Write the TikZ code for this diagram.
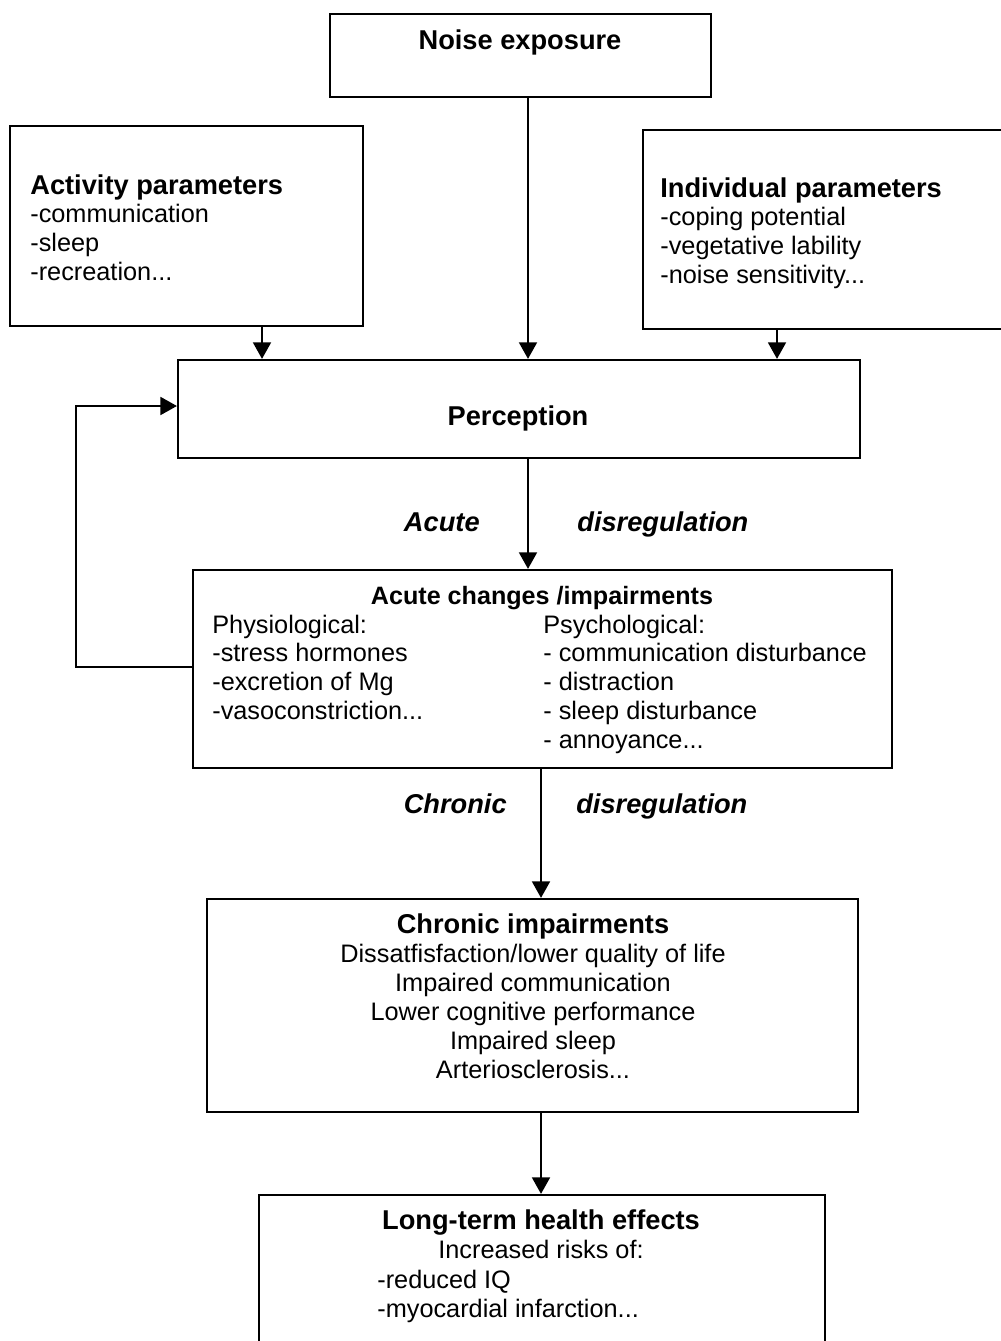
\documentclass[tikz,border=0pt]{standalone}
\usepackage{fontspec}
\setmainfont{Liberation Sans}
\usetikzlibrary{arrows.meta}

\tikzset{
  box/.style={draw, line width=1.3pt, inner sep=0pt},
  body/.style={font=\fontsize{14.4}{16.4}\selectfont, inner sep=0pt},
  flow/.style={line width=1pt},
  disreg/.style={font=\fontsize{15.5}{16.4}\selectfont\bfseries\itshape, inner sep=0pt},
}
\newcommand{\hd}[1]{{\fontsize{15.5}{16.4}\selectfont\bfseries #1}}

\begin{document}
\begin{tikzpicture}[x=0.02cm, y=-0.02cm, >={Triangle[length=0.33cm,width=0.36cm]}]
        \useasboundingbox (0,0) rectangle (1000,1341);

        % boxes
        \node[box, minimum width=7.62cm, minimum height=1.66cm] (noise) at (520.5,55.5) {};
        \node[box, minimum width=7.06cm, minimum height=4cm] (activity) at (186.5,226) {};
        \node[box, minimum width=7.38cm, minimum height=3.98cm] (individual) at (827.5,229.5) {};
        \node[box, minimum width=13.64cm, minimum height=1.96cm] (perception) at (519,409) {};
        \node[box, minimum width=13.98cm, minimum height=3.96cm] (acute) at (542.5,669) {};
        \node[box, minimum width=13.02cm, minimum height=4.26cm] (chronic) at (532.5,1005.5) {};
        \node[box, minimum width=11.32cm, minimum height=3.14cm] (longterm) at (542,1273.5) {};

        % texts (multi-line nodes sit on the baseline of their last line)
        \node[body, anchor=base] (noiseT) at (520,50) {\hd{Noise exposure}};
        \node[body, anchor=base west, align=left] (activityT) at (30,280.5)
            {\hd{Activity parameters}\\-communication\\-sleep\\-recreation...};
        \node[body, anchor=base west, align=left] (individualT) at (660,283.5)
            {\hd{Individual parameters}\\-coping potential\\-vegetative lability\\-noise sensitivity...};
        \node[body, anchor=base] (perceptionT) at (518,425) {\hd{Perception}};
        \node[disreg, anchor=base east] (acuteL) at (480,531) {Acute};
        \node[disreg, anchor=base west] (acuteR) at (577,531) {disregulation};
        \node[body, anchor=base] (acuteT) at (542,604)
            {\fontsize{14.3}{16.4}\selectfont\bfseries Acute changes /impairments};
        \node[body, anchor=base west, align=left] (physT) at (212,719.5)
            {Physiological:\\-stress hormones\\-excretion of Mg\\-vasoconstriction...};
        \node[body, anchor=base west, align=left] (psychT) at (543,748.3)
            {Psychological:\\- communication disturbance\\- distraction\\- sleep disturbance\\- annoyance...};
        \node[disreg, anchor=base east] (chronicL) at (507,813) {Chronic};
        \node[disreg, anchor=base west] (chronicR) at (576,813) {disregulation};
        \node[body, anchor=base, align=center] (chronicT) at (533,1078)
            {\hd{Chronic impairments}\\Dissatfisfaction/lower quality of life\\Impaired communication\\Lower cognitive performance\\Impaired sleep\\Arteriosclerosis...};
        \node[body, anchor=base, align=center] (longtermT) at (541,1258)
            {\hd{Long-term health effects}\\Increased risks of:};
        \node[body, anchor=base west, align=left] (risksT) at (377,1317)
            {-reduced IQ\\-myocardial infarction...};

        % arrows
        \draw[flow,->] (activity.south -| 262,0) -- (perception.north -| 262,0);
        \draw[flow,->] (noise.south -| 528,0) -- (perception.north -| 528,0);
        \draw[flow,->] (individual.south -| 777,0) -- (perception.north -| 777,0);
        \draw[flow,->] (perception.south -| 528,0) -- (acute.north -| 528,0);
        \draw[flow,->] (acute.west |- 0,667) -- (76,667) |- (perception.west |- 0,406);
        \draw[flow,->] (acute.south -| 541,0) -- (chronic.north -| 541,0);
        \draw[flow,->] (chronic.south -| 541,0) -- (longterm.north -| 541,0);
    \end{tikzpicture}
\end{document}
